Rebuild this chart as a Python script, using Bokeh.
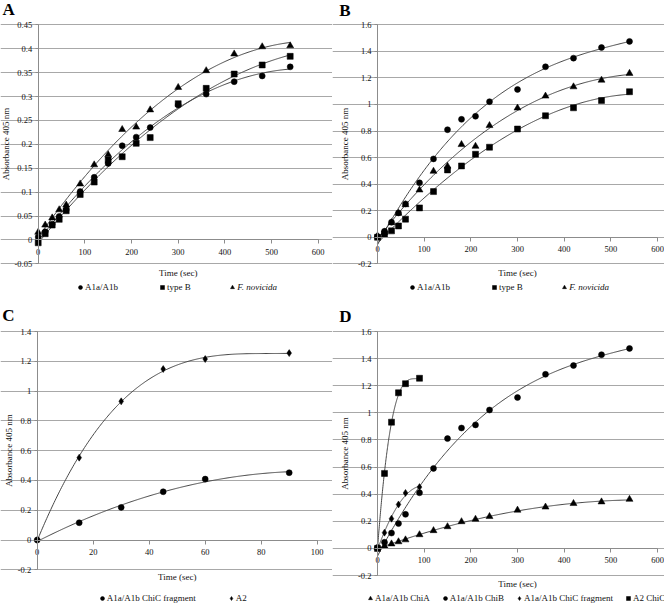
import numpy as np
from bokeh.plotting import figure
from bokeh.models import FixedTicker, Legend, LegendItem, Label, Range1d
from bokeh.layouts import column, row
from bokeh.embed import file_html
from bokeh.resources import INLINE

# ---------------- data ----------------
# Panels A, B (time in sec)
AB_time = [0, 15, 30, 45, 60, 90, 120, 150, 180, 210, 240, 300, 360, 420, 480, 540]
A_a1a = [0.006, 0.017, 0.033, 0.049, 0.063, 0.101, 0.131, 0.160, 0.197, 0.215, 0.235, 0.282, 0.305, 0.331, 0.343, 0.362]
A_typeB = [-0.006, 0.013, 0.031, 0.043, 0.061, 0.095, 0.121, 0.167, 0.174, 0.202, 0.214, 0.285, 0.317, 0.347, 0.366, 0.384]
A_novicida = [0.016, 0.031, 0.046, 0.063, 0.073, 0.117, 0.157, 0.178, 0.231, 0.236, 0.272, 0.319, 0.354, 0.389, 0.404, 0.406]

B_a1a = [0.005, 0.045, 0.113, 0.183, 0.251, 0.41, 0.59, 0.81, 0.888, 0.911, 1.021, 1.113, 1.284, 1.349, 1.429, 1.475]
B_typeB = [0.0, 0.025, 0.048, 0.085, 0.136, 0.221, 0.344, 0.507, 0.537, 0.625, 0.678, 0.815, 0.915, 0.975, 1.03, 1.096]
B_novicida = [0.01, 0.035, 0.11, 0.18, 0.245, 0.356, 0.497, 0.535, 0.698, 0.685, 0.841, 0.973, 1.063, 1.133, 1.183, 1.234]

# Panel C
C_time = [0, 15, 30, 45, 60, 90]
C_chic_fragment = [0.0, 0.116, 0.219, 0.324, 0.409, 0.452]
C_a2 = [0.0, 0.553, 0.931, 1.148, 1.215, 1.255]

# Panel D
D_time_long = AB_time
D_time_short = C_time
D_chia = A_a1a
D_chib = B_a1a
D_chic_fragment = C_chic_fragment
D_a2_chic = C_a2

# ticks
X600_ticks = [0, 100, 200, 300, 400, 500, 600]
X600_labels = ["0", "100", "200", "300", "400", "500", "600"]
X100_ticks = [0, 20, 40, 60, 80, 100]
X100_labels = ["0", "20", "40", "60", "80", "100"]
A_yticks = [-0.05, 0, 0.05, 0.1, 0.15, 0.2, 0.25, 0.3, 0.35, 0.4, 0.45]
A_ylabels = ["-0.05", "0", "0.05", "0.1", "0.15", "0.2", "0.25", "0.3", "0.35", "0.4", "0.45"]
B_yticks = [-0.2, 0, 0.2, 0.4, 0.6, 0.8, 1, 1.2, 1.4, 1.6]
B_ylabels = ["-0.2", "0", "0.2", "0.4", "0.6", "0.8", "1", "1.2", "1.4", "1.6"]
C_yticks = [-0.2, 0, 0.2, 0.4, 0.6, 0.8, 1, 1.2, 1.4]
C_ylabels = ["-0.2", "0", "0.2", "0.4", "0.6", "0.8", "1", "1.2", "1.4"]

# ---------------- style ----------------
FONT = "Liberation Serif"
GRID = "#a8a8a8"
AXIS = "#8c8c8c"
CURVE = "#474747"
INK = "#111111"
MSIZE = {"circle": 6, "square": 6, "triangle": 7, "diamond": 7}
W, H = 332, 302


def fit_curve(x, y, deg, n=240):
    xs = np.linspace(min(x), max(x), n)
    return xs, np.polyval(np.polyfit(x, y, deg), xs)


def legend(items, x, y, spacing, italic=False):
    return Legend(items=items, location=(x, y), orientation="horizontal",
                  background_fill_alpha=0, border_line_color=None,
                  padding=0, margin=0, spacing=int(spacing),
                  glyph_width=10, glyph_height=10, label_height=10, label_standoff=0,
                  label_text_font=FONT, label_text_font_size="9px",
                  label_text_font_style="italic" if italic else "normal",
                  label_text_color=INK)


def make_panel(letter, letter_px, xgeom, ygeom, xticks, xlabels, yticks, ylabels,
               series, legends, ylab_standoff, xlab_drop):
    # xgeom: (pixel of x_min, pixel of x_max, x_min, x_max)
    # ygeom: (pixel of y_max from top, pixel of y_min from top, y_min, y_max)
    px0, px1, x_min, x_max = xgeom
    py0, py1, y_min, y_max = ygeom
    sx = (px1 - px0) / (x_max - x_min)
    sy = (py1 - py0) / (y_max - y_min)
    x_lo, x_hi = x_min - px0 / sx, x_min + (W - px0) / sx
    y_hi, y_lo = y_max + py0 / sy, y_min - (H - py1) / sy

    p = figure(width=W, height=H, x_range=Range1d(x_lo, x_hi), y_range=Range1d(y_lo, y_hi),
               output_backend="svg", toolbar_location=None,
               min_border_left=0, min_border_right=0, min_border_top=0, min_border_bottom=0,
               outline_line_color=None, background_fill_color="white",
               border_fill_color="white")

    p.xgrid.visible = False
    p.ygrid.grid_line_color = GRID
    p.ygrid.grid_line_width = 1
    p.ygrid.bounds = (x_min, x_max)

    xa = p.xaxis[0]
    xa.fixed_location = 0
    xa.bounds = (x_min, x_max)
    xa.ticker = FixedTicker(ticks=xticks)
    xa.major_label_overrides = dict(zip(xticks, xlabels))
    xa.axis_line_color = AXIS
    xa.major_tick_line_color = AXIS
    xa.major_tick_in = 0
    xa.major_tick_out = 4
    xa.minor_tick_line_color = None
    xa.major_label_standoff = 5
    xa.major_label_text_font = FONT
    xa.major_label_text_font_size = "8.5px"
    xa.major_label_text_color = INK

    ya = p.yaxis[0]
    ya.fixed_location = 0
    ya.bounds = (y_min, y_max)
    ya.ticker = FixedTicker(ticks=yticks)
    ya.major_label_overrides = dict(zip(yticks, ylabels))
    ya.axis_line_color = AXIS
    ya.major_tick_line_color = AXIS
    ya.major_tick_in = 0
    ya.major_tick_out = 3
    ya.minor_tick_line_color = None
    ya.major_label_standoff = 3
    ya.major_label_text_font = FONT
    ya.major_label_text_font_size = "8.5px"
    ya.major_label_text_color = INK
    ya.axis_label = "Absorbance 405 nm"
    ya.axis_label_standoff = ylab_standoff
    ya.axis_label_text_font = FONT
    ya.axis_label_text_font_size = "9px"
    ya.axis_label_text_font_style = "normal"
    ya.axis_label_text_color = INK

    p.add_layout(Label(x=(x_min + x_max) / 2, y=y_min, y_offset=-xlab_drop, text="Time (sec)",
                       text_font=FONT, text_font_size="9px", text_color=INK,
                       text_align="center", text_baseline="middle"))
    p.add_layout(Label(x=x_lo, y=y_hi, x_offset=letter_px[0], y_offset=-letter_px[1], text=letter,
                       text_font=FONT, text_font_size="17px", text_font_style="bold",
                       text_color="black", text_align="left", text_baseline="alphabetic"))

    for s in series:
        xs, ys = fit_curve(s["x"], s["y"], s["deg"])
        p.line(xs, ys, line_color=CURVE, line_width=1)
    items = []
    for s in series:
        r = p.scatter(s["x"], s["y"], marker=s["marker"], size=MSIZE[s["marker"]],
                      fill_color="black", line_color="black", line_width=0.5)
        items.append(LegendItem(label=s["label"], renderers=[r]))
    for (idx, x, y, spacing, italic) in legends:
        p.add_layout(legend([items[i] for i in idx], x, y, spacing, italic))
    return p


pA = make_panel("A", (2, 9), (37.7, 317.7, 0, 600), (24.3, 263.3, -0.05, 0.45),
                X600_ticks, X600_labels, A_yticks, A_ylabels,
                [dict(x=AB_time, y=A_a1a, marker="circle", deg=2, label="A1a/A1b"),
                 dict(x=AB_time, y=A_typeB, marker="square", deg=2, label="type B"),
                 dict(x=AB_time, y=A_novicida, marker="triangle", deg=2, label="F. novicida")],
                [([0, 1], 75, 9.7, 39, False), ([2], 227.3, 9.7, 0, True)],
                ylab_standoff=1, xlab_drop=9.4)

pB = make_panel("B", (6.7, 10), (45, 325, 0, 600), (24.3, 263.3, -0.2, 1.6),
                X600_ticks, X600_labels, B_yticks, B_ylabels,
                [dict(x=AB_time, y=B_a1a, marker="circle", deg=3, label="A1a/A1b"),
                 dict(x=AB_time, y=B_typeB, marker="square", deg=3, label="type B"),
                 dict(x=AB_time, y=B_novicida, marker="triangle", deg=3, label="F. novicida")],
                [([0, 1], 75, 9.7, 39, False), ([2], 227.3, 9.7, 0, True)],
                ylab_standoff=5, xlab_drop=9.4)

pC = make_panel("C", (1.7, 13), (36.7, 316.7, 0, 100), (29, 267.3, -0.2, 1.4),
                X100_ticks, X100_labels, C_yticks, C_ylabels,
                [dict(x=C_time, y=C_chic_fragment, marker="circle", deg=2, label="A1a/A1b ChiC fragment"),
                 dict(x=C_time, y=C_a2, marker="diamond", deg=3, label="A2")],
                [([0, 1], 96.7, 1.3, 30, False)],
                ylab_standoff=1, xlab_drop=7.4)

pD = make_panel("D", (6.7, 14), (45, 325, 0, 600), (29, 273, -0.2, 1.6),
                X600_ticks, X600_labels, B_yticks, B_ylabels,
                [dict(x=D_time_long, y=D_chia, marker="triangle", deg=2, label="A1a/A1b ChiA"),
                 dict(x=D_time_long, y=D_chib, marker="circle", deg=3, label="A1a/A1b ChiB"),
                 dict(x=D_time_short, y=D_chic_fragment, marker="diamond", deg=2, label="A1a/A1b ChiC fragment"),
                 dict(x=D_time_short, y=D_a2_chic, marker="square", deg=3, label="A2 ChiC")],
                [([0, 1, 2, 3], 33, 1.3, 10, False)],
                ylab_standoff=5, xlab_drop=8.3)

layout = column(row(pA, pB), row(pC, pD))
open("out.html", "w").write(file_html(layout, INLINE))
